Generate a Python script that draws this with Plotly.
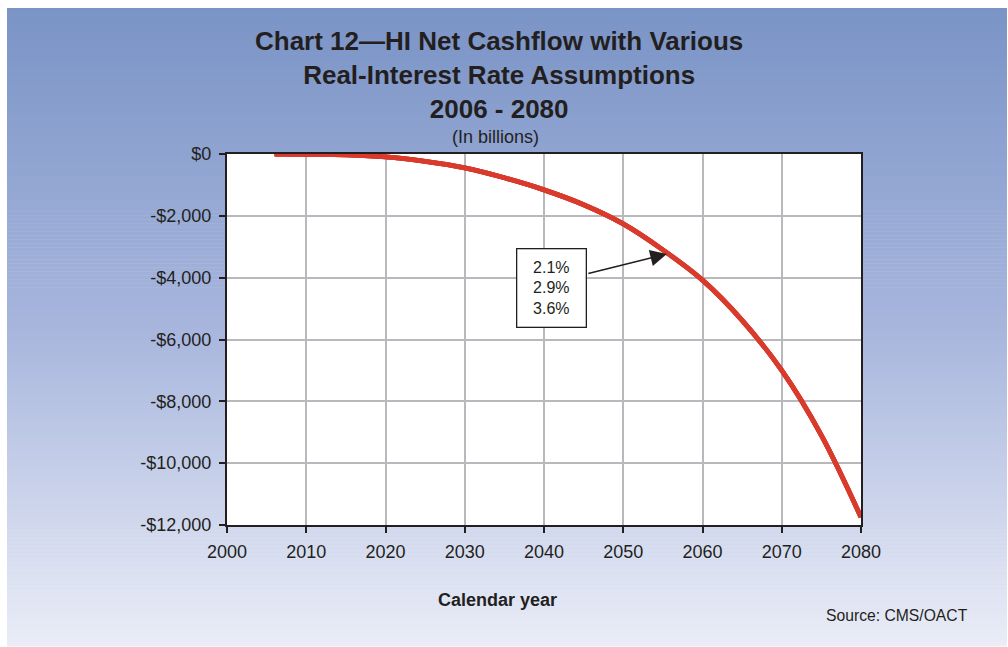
import plotly.graph_objects as go

# HI net cashflow, billions of dollars, by calendar year
years = [2006, 2010, 2015, 2020, 2025, 2030, 2035, 2040, 2045, 2050,
         2055, 2060, 2065, 2070, 2075, 2080]
net_cashflow = [0, -10, -30, -95, -240, -450, -770, -1160, -1640, -2260,
                -3100, -4080, -5380, -7000, -9100, -11750]

# The projected cashflow is the same under each real-interest assumption
rate_labels = ["2.1%", "2.9%", "3.6%"]
rate_colors = ["#c8352a", "#d23a2c", "#d93a2b"]

x_ticks = [2000, 2010, 2020, 2030, 2040, 2050, 2060, 2070, 2080]
y_ticks = [0, -2000, -4000, -6000, -8000, -10000, -12000]
y_tick_text = ["$0", "-$2,000", "-$4,000", "-$6,000", "-$8,000", "-$10,000", "-$12,000"]

W, H = 1008, 647
L, R, T, B = 227, 861, 154, 525  # plot-area pixel bounds

TEXT = "#231f20"
FONT = "Liberation Sans, Arial, Helvetica, sans-serif"

fig = go.Figure()
for name, color in zip(rate_labels, rate_colors):
    fig.add_trace(go.Scatter(
        x=years, y=net_cashflow, name=name, mode="lines",
        line=dict(color=color, width=4.8, shape="spline", smoothing=1.0),
        hoverinfo="x+y+name",
    ))


def px_x(p):
    return (p - L) / (R - L)


def px_y(p):
    return (B - p) / (B - T)


# vertical blue-to-pale background, drawn as thin bands
shapes = []
top, bottom = 8, 646
stops = [(8, (122, 148, 198)), (330, (168, 182, 221)), (646, (234, 237, 247))]
n = 160
for i in range(n):
    y0 = top + (bottom - top) * i / n
    y1 = top + (bottom - top) * (i + 1) / n
    ym = (y0 + y1) / 2
    for (a, ca), (b, cb) in zip(stops[:-1], stops[1:]):
        if a <= ym <= b:
            t = (ym - a) / (b - a)
            c = tuple(round(ca[k] + (cb[k] - ca[k]) * t) for k in range(3))
            break
    shapes.append(dict(
        type="rect", xref="paper", yref="paper", layer="below",
        x0=px_x(7), x1=px_x(1007), y0=px_y(y1 + 0.5), y1=px_y(y0),
        fillcolor="rgb(%d,%d,%d)" % c, line=dict(width=0),
    ))
# white plotting area on top of the background bands
shapes.append(dict(type="rect", xref="paper", yref="paper", layer="below",
                   x0=0, x1=1, y0=0, y1=1, fillcolor="white", line=dict(width=0)))

annotations = [
    dict(text="Chart 12\u2014HI Net Cashflow with Various<br>Real-Interest Rate Assumptions<br>2006 - 2080",
         xref="paper", yref="paper", x=px_x(499), y=px_y(75), xanchor="center", yanchor="middle",
         showarrow=False, font=dict(family=FONT, size=26, color=TEXT, weight="bold")),
    dict(text="(In billions)", xref="paper", yref="paper", x=px_x(495), y=px_y(137),
         xanchor="center", yanchor="middle", showarrow=False,
         font=dict(family=FONT, size=18, color=TEXT)),
    dict(text="Calendar year", xref="paper", yref="paper", x=px_x(497), y=px_y(600),
         xanchor="center", yanchor="middle", showarrow=False,
         font=dict(family=FONT, size=18, color=TEXT, weight="bold")),
    dict(text="Source: CMS/OACT", xref="paper", yref="paper", x=px_x(970), y=px_y(615),
         xanchor="right", yanchor="middle", showarrow=False,
         font=dict(family=FONT, size=15.7, color=TEXT)),
    # label box for the three assumptions
    dict(text="<br>".join(rate_labels), xref="x", yref="y", x=2041.0, y=-4320,
         xanchor="center", yanchor="middle", showarrow=False, align="center",
         width=66, height=75, borderpad=1, bordercolor="#231f20", borderwidth=1.3,
         bgcolor="white", font=dict(family=FONT, size=16, color=TEXT)),
    # pointer from the label box to the curve
    dict(text="", xref="x", yref="y", x=2055.5, y=-3235, axref="x", ayref="y",
         ax=2045.4, ay=-3880, showarrow=True, arrowhead=2, arrowsize=2.2,
         arrowwidth=1.5, arrowcolor="#231f20", standoff=0, startstandoff=0),
]

axis_common = dict(
    showline=True, linecolor="#231f20", linewidth=2.2, mirror=True,
    showgrid=True, gridcolor="#b9b9bd", gridwidth=2, zeroline=False,
    ticks="outside", ticklen=6, tickwidth=2, tickcolor="#231f20",
    tickfont=dict(family=FONT, size=18, color=TEXT),
)

fig.update_layout(
    width=W, height=H,
    margin=dict(l=L, r=W - R, t=T, b=H - B),
    paper_bgcolor="white", plot_bgcolor="white",
    showlegend=False,
    shapes=shapes, annotations=annotations,
    xaxis=dict(range=[2000, 2080], tickvals=x_ticks, ticklabelstandoff=3, **axis_common),
    yaxis=dict(range=[-12000, 0], tickvals=y_ticks, ticktext=y_tick_text,
               ticklabelstandoff=4, **axis_common),
)

fig.write_html("out.html")
